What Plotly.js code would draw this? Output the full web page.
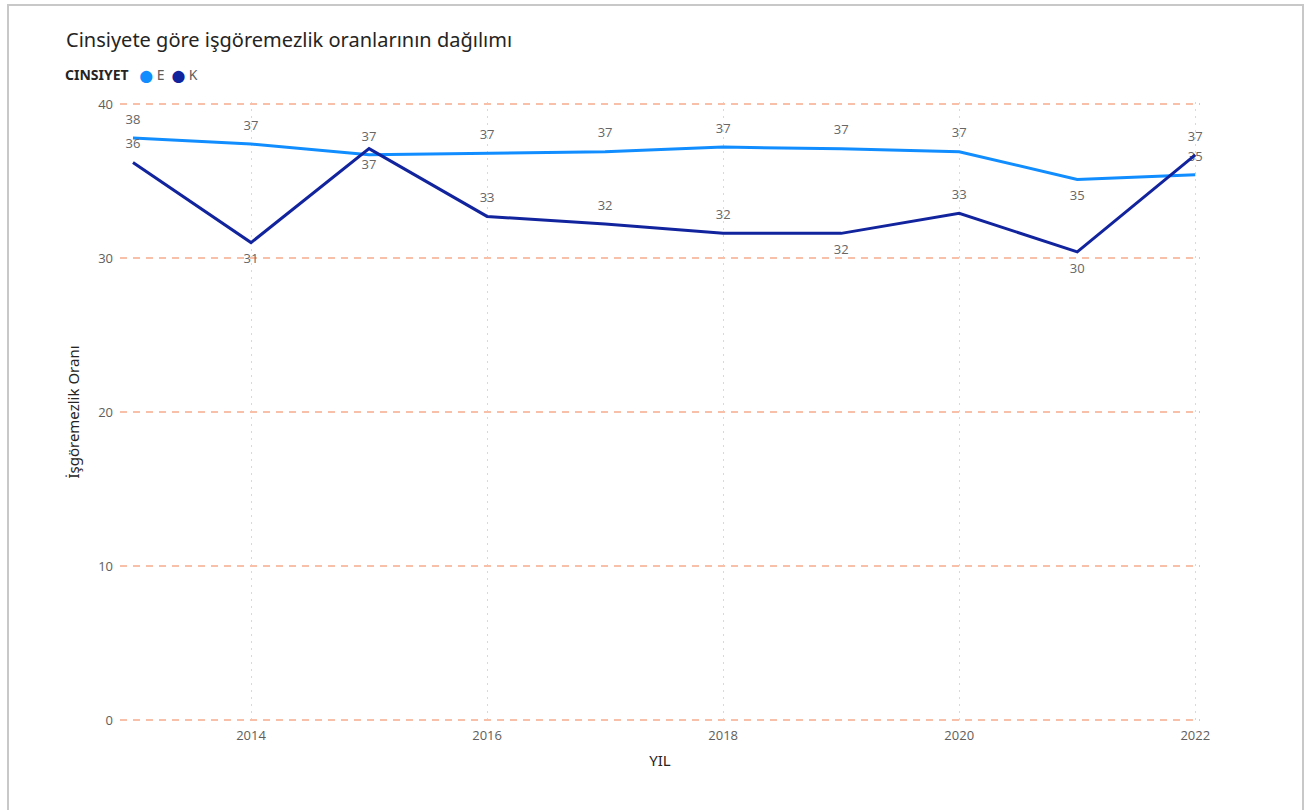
<!DOCTYPE html>
<html>
<head>
<meta charset="utf-8">
<script src="https://cdn.plot.ly/plotly-3.0.1.min.js"></script>
<style>
html,body{margin:0;padding:0;background:#fff;}
#wrap{position:relative;width:1307px;height:810px;overflow:hidden;}
#chart{position:absolute;left:0;top:0;width:1307px;height:810px;}
#frame{position:absolute;left:7px;top:4px;width:1293px;height:820px;border:2px solid #c8c8c8;pointer-events:none;}
</style>
</head>
<body>
<div id="wrap"><div id="chart"></div><div id="frame"></div></div>
<script>
const years = [2013, 2014, 2015, 2016, 2017, 2018, 2019, 2020, 2021, 2022];
const seriesNames = ['E', 'K'];
const seriesE = [37.8, 37.4, 36.7, 36.8, 36.9, 37.2, 37.1, 36.9, 35.1, 35.4];
const seriesK = [36.2, 31.0, 37.1, 32.7, 32.2, 31.6, 31.6, 32.9, 30.4, 36.7];
const yTicks = [0, 10, 20, 30, 40];
const xTicks = [2014, 2016, 2018, 2020, 2022];
const legendTitle = 'CINSIYET';

const colE = '#118DFF', colK = '#12239E';
const posE = ['top center','top center','top center','top center','top center','top center','top center','top center','bottom center','top center'];
const posK = ['top center','bottom center','bottom center','top center','top center','top center','bottom center','top center','bottom center','top center'];

const labelFont = {family: 'Open Sans, sans-serif', size: 13, color: '#666666'};

const traces = [
  {x: years, y: seriesE, name: seriesNames[0], mode: 'lines+markers+text', line: {color: colE, width: 3},
   marker: {size: 16, opacity: 0, color: colE},
   texttemplate: '%{y:.0f}', textposition: posE, textfont: labelFont,
   cliponaxis: false, showlegend: false, hoverinfo: 'x+y'},
  {x: years, y: seriesK, name: seriesNames[1], mode: 'lines+markers+text', line: {color: colK, width: 3},
   marker: {size: 16, opacity: 0, color: colK},
   texttemplate: '%{y:.0f}', textposition: posK, textfont: labelFont,
   cliponaxis: false, showlegend: false, hoverinfo: 'x+y'}
];

const legendText = '<b>' + legendTitle + '</b>   ' +
  '<span style="color:' + colE + ';font-family:DejaVu Sans;font-size:12px">⬤</span><span style="color:#605E5C"> ' + seriesNames[0] + '</span>  ' +
  '<span style="color:' + colK + ';font-family:DejaVu Sans;font-size:12px">⬤</span><span style="color:#605E5C"> ' + seriesNames[1] + '</span>';

const layout = {
  width: 1307, height: 810,
  margin: {l: 120, r: 107, t: 102, b: 88},
  paper_bgcolor: '#ffffff', plot_bgcolor: '#ffffff',
  showlegend: false,
  font: {family: 'Open Sans, sans-serif', color: '#605E5C', size: 12},
  title: {text: 'Cinsiyete göre işgöremezlik oranlarının dağılımı',
    xref: 'container', yref: 'container', x: 66/1307, xanchor: 'left',
    y: 1 - 40/810, yanchor: 'middle',
    font: {family: 'Noto Sans, sans-serif', size: 20, color: '#252423'}},
  annotations: [{text: legendText, xref: 'paper', yref: 'paper',
    x: -57/1080, xanchor: 'left', y: 1 + 28/620, yanchor: 'middle', showarrow: false,
    font: {family: 'Noto Sans, sans-serif', size: 14, color: '#252423'}}],
  xaxis: {range: [2012.89, 2022.04], tickvals: xTicks, ticktext: xTicks.map(String),
    showgrid: true, gridcolor: '#d9d9d9', griddash: '2px,5px', gridwidth: 1,
    zeroline: false, showline: false, ticks: '', ticklabelstandoff: 4,
    tickfont: {family: 'Open Sans, sans-serif', size: 13, color: '#605E5C'},
    title: {text: 'YIL', standoff: 12, font: {family: 'Noto Sans, sans-serif', size: 15, color: '#252423'}}},
  yaxis: {range: [-0.13, 40.13], tickvals: yTicks, ticktext: yTicks.map(String),
    showgrid: true, gridcolor: '#F8C0A8', griddash: '7px,6px', gridwidth: 1.5,
    zeroline: false, showline: false, ticks: '', ticklabelstandoff: 6,
    tickfont: {family: 'Open Sans, sans-serif', size: 13, color: '#605E5C'},
    title: {text: 'İşgöremezlik Oranı', standoff: 14, font: {family: 'Noto Sans, sans-serif', size: 15, color: '#252423'}}}
};

Plotly.newPlot('chart', traces, layout, {displayModeBar: false, responsive: false});
</script>
</body>
</html>
